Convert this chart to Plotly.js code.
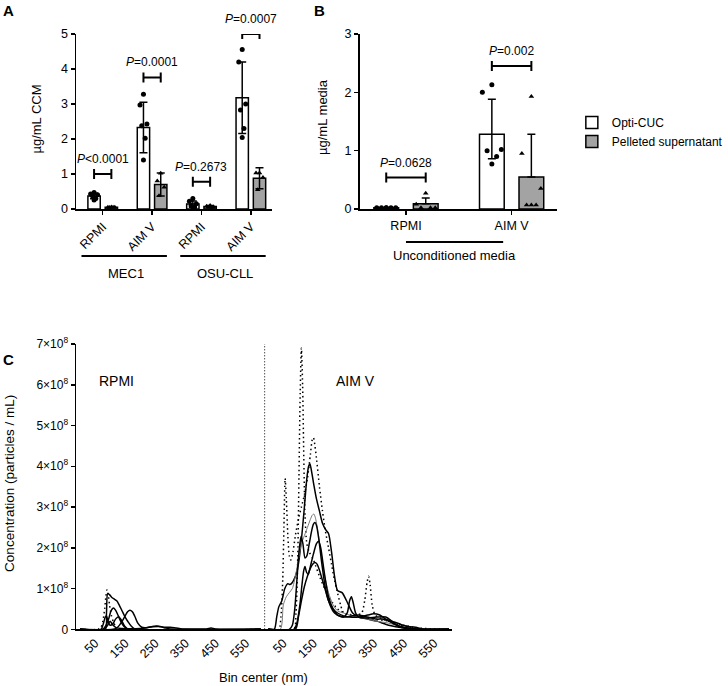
<!DOCTYPE html>
<html><head><meta charset="utf-8">
<script src="https://cdn.plot.ly/plotly-3.0.1.min.js"></script>
<style>html,body{margin:0;padding:0;background:#fff}</style>
</head><body><div id="chart" style="width:728px;height:686px"></div>
<script>
// ---------- Panel A ----------
const aCategories = ['RPMI', 'AIM V', 'RPMI', 'AIM V'];
const aGroups = ['MEC1', 'OSU-CLL'];
const aOptiMean = [0.37, 2.33, 0.14, 3.18];
const aOptiSD = [0.08, 0.72, 0.09, 1.02];
const aPelletMean = [0.05, 0.70, 0.07, 0.88];
const aPelletSD = [0.01, 0.33, 0.03, 0.30];
const aOptiPoints = [
  [0.47, 0.43, 0.41, 0.38, 0.30, 0.26],
  [3.28, 2.97, 2.43, 2.38, 2.02, 1.40],
  [0.30, 0.22, 0.15, 0.10, 0.05, 0.03],
  [4.56, 4.20, 3.00, 2.83, 2.30, 2.04]
];
const aPelletPoints = [
  [0.06, 0.05, 0.05, 0.04, 0.05],
  [1.02, 0.80, 0.62, 0.38],
  [0.10, 0.08, 0.06, 0.05, 0.04],
  [1.03, 1.03, 0.90, 0.55]
];
const aPText = ['<i>P</i>&lt;0.0001', '<i>P</i>=0.0001', '<i>P</i>=0.2673', '<i>P</i>=0.0007'];
const aBracketY = [1.0, 3.76, 0.78, 5.0];

// ---------- Panel B ----------
const bCategories = ['RPMI', 'AIM V'];
const bOptiMean = [0.02, 1.28];
const bOptiSDUp = [0.0, 0.60];
const bOptiSDDown = [0.0, 0.42];
const bPelletMean = [0.09, 0.55];
const bPelletSDUp = [0.10, 0.73];
const bPelletSDDown = [0.0, 0.0];
const bOptiPoints = [
  [0.02, 0.02, 0.02, 0.02, 0.02, 0.02],
  [2.13, 2.00, 1.02, 1.00, 0.90, 0.77]
];
const bPelletPoints = [
  [0.27, 0.08, 0.02, 0.02, 0.02],
  [1.93, 0.95, 0.35, 0.07, 0.07, 0.07]
];
const bPText = ['<i>P</i>=0.0628', '<i>P</i>=0.002'];
const bBracketY = [0.54, 2.45];

// ---------- Panel C (values in 1e8 particles/mL) ----------
const rpmiCurves = [
  {dash: 'dot', x: [0,60,70,76,82,86,90,94,98,104,110,120,130,600],
   y: [0,0,0.05,0.2,0.5,0.8,0.97,0.85,0.6,0.35,0.2,0.05,0,0]},
  {dash: 'solid', x: [0,84,88,92,98,106,114,122,130,140,150,160,170,185,600],
   y: [0,0,0.4,0.88,0.85,0.78,0.74,0.7,0.6,0.45,0.3,0.18,0.08,0,0]},
  {dash: 'solid', x: [0,75,85,95,103,111,118,126,135,145,160,600],
   y: [0,0,0.08,0.25,0.45,0.52,0.47,0.35,0.2,0.08,0,0]},
  {dash: 'solid', x: [0,110,125,140,150,158,166,174,182,192,205,220,240,255,270,285,300,600],
   y: [0,0,0.05,0.2,0.33,0.43,0.47,0.43,0.32,0.15,0.05,0.04,0.07,0.08,0.06,0.03,0.01,0]},
  {dash: 'solid', x: [0,70,78,84,88,93,100,108,118,128,138,148,160,600],
   y: [0,0,0.15,0.3,0.33,0.2,0.1,0.12,0.25,0.31,0.22,0.08,0,0]},
  {dash: 'solid', x: [0,80,92,100,108,120,140,200,240,260,280,300,320,340,420,435,450,600],
   y: [0,0,0.1,0.2,0.12,0.04,0.02,0.02,0.06,0.07,0.05,0.05,0.03,0.01,0.01,0.03,0.01,0]}
];
const aimvCurves = [
  {dash: 'dot', x: [0,85,92,98,102,106,110,114,118,122,128,136,150,170,200,230,260,290,310,320,328,333,338,345,355,380,420,470,520,600],
   y: [0,0,0.4,1.8,3.8,5.8,6.9,6.0,4.2,2.8,2.1,1.9,1.7,1.3,0.8,0.5,0.38,0.35,0.4,0.7,1.15,1.3,1.1,0.6,0.35,0.25,0.15,0.05,0,0]},
  {dash: 'dot', x: [0,35,42,48,52,56,60,65,70,75,82,90,100,110,120,130,140,146,150,155,160,170,180,190,200,210,220,228,240,250,270,300,350,400,450,500,600],
   y: [0,0,0.3,1.2,2.5,3.7,3.2,2.3,1.8,1.7,1.9,2.3,2.7,3.0,3.3,3.7,4.3,4.65,4.7,4.5,4.2,3.5,2.9,2.4,2.0,1.6,1.2,0.95,0.6,0.4,0.35,0.3,0.25,0.2,0.1,0.03,0]},
  {dash: 'solid', x: [0,20,28,35,45,55,65,72,80,90,100,110,120,128,134,138,142,150,160,170,180,190,200,210,220,230,245,260,280,300,330,360,400,450,500,600],
   y: [0,0,0.3,0.55,0.7,1.0,1.12,1.1,1.15,1.3,1.6,2.2,3.0,3.7,4.0,4.06,3.95,3.6,3.2,2.9,2.6,2.45,2.35,1.9,1.3,0.95,0.9,0.7,0.4,0.3,0.25,0.2,0.1,0.03,0,0]},
  {dash: 'solid', thin: true, x: [0,40,50,60,70,80,90,100,110,120,130,140,146,151,156,165,175,185,200,215,230,250,270,300,330,360,400,450,500,600],
   y: [0,0,0.6,0.8,0.9,1.0,1.3,1.7,2.1,2.3,2.5,2.7,2.8,2.83,2.75,2.4,1.9,1.4,0.9,0.6,0.45,0.4,0.35,0.3,0.25,0.2,0.15,0.05,0,0]},
  {dash: 'solid', x: [0,70,80,88,95,102,109,115,122,128,136,145,150,155,160,168,178,190,205,220,240,260,280,300,330,360,380,400,420,450,480,500,600],
   y: [0,0,0.1,0.5,1.2,1.9,2.28,2.1,1.75,1.8,2.1,2.45,2.58,2.62,2.55,2.2,1.6,1.0,0.6,0.4,0.32,0.3,0.33,0.35,0.3,0.25,0.25,0.2,0.12,0.05,0.02,0,0]},
  {dash: 'solid', x: [0,85,95,105,112,118,122,127,133,140,150,160,167,174,182,190,200,215,230,250,262,270,276,282,290,300,330,360,390,410,430,460,600],
   y: [0,0,0.15,0.6,1.1,1.45,1.54,1.4,1.35,1.55,1.85,2.1,2.16,2.0,1.6,1.2,0.8,0.5,0.35,0.3,0.4,0.7,0.8,0.65,0.4,0.3,0.28,0.3,0.3,0.2,0.08,0.02,0]},
  {dash: 'solid', x: [0,90,100,110,120,130,140,148,155,162,170,180,190,200,215,230,250,270,300,330,350,370,390,410,440,470,490,510,600],
   y: [0,0,0.3,0.7,1.05,1.3,1.5,1.6,1.64,1.6,1.45,1.2,0.95,0.7,0.5,0.4,0.33,0.3,0.3,0.35,0.38,0.35,0.25,0.2,0.12,0.06,0.05,0.01,0]}
];
const cTickNm = [50, 150, 250, 350, 450, 550];
const cYTicks = [0, 1, 2, 3, 4, 5, 6, 7];

// ---------- layout constants ----------
const W = 728, H = 686;
const FONT = 'Arial, "Liberation Sans", sans-serif';
const aOff = 0.175, aW = 0.25;
const bOff = 0.187, bW = 0.234;
const AIMV_SHIFT = 625;
const DIVIDER = 613;
const px = v => v / W;
const py = v => 1 - v / H;

function jitter(i, n, half) {
  const pat = [0, -1, 1, -0.5, 0.5, 0];
  return (n <= 1 ? 0 : pat[i % pat.length]) * half;
}

const traces = [];
const GRAY = '#a3a3a3';

function addBars(cats, off, w, optiM, optiUp, optiDn, pelM, pelUp, pelDn, xa, ya, legend) {
  const idx = cats.map((_, i) => i);
  traces.push({type: 'bar', x: idx.map(i => i - off), y: optiM, width: w,
    marker: {color: '#ffffff', line: {color: '#000', width: 1.5}},
    error_y: {type: 'data', symmetric: false, array: optiUp, arrayminus: optiDn, color: '#000', thickness: 1.5, width: 4},
    name: 'Opti-CUC', showlegend: legend, xaxis: xa, yaxis: ya, hoverinfo: 'skip'});
  traces.push({type: 'bar', x: idx.map(i => i + off), y: pelM, width: w,
    marker: {color: GRAY, line: {color: '#000', width: 1.5}},
    error_y: {type: 'data', symmetric: false, array: pelUp, arrayminus: pelDn, color: '#000', thickness: 1.5, width: 4},
    name: 'Pelleted supernatant', showlegend: legend, xaxis: xa, yaxis: ya, hoverinfo: 'skip'});
}
function addPoints(points, off, sign, half, symbol, xa, ya) {
  const xs = [], ys = [];
  points.forEach((arr, i) => arr.forEach((v, k) => {
    xs.push(i + sign * off + jitter(k, arr.length, half)); ys.push(v);
  }));
  traces.push({type: 'scatter', mode: 'markers', x: xs, y: ys, cliponaxis: false,
    marker: {symbol: symbol, size: 5, color: '#000'}, showlegend: false, xaxis: xa, yaxis: ya, hoverinfo: 'skip'});
}

addBars(aCategories, aOff, aW, aOptiMean, aOptiSD, aOptiSD, aPelletMean, aPelletSD, aPelletSD, 'x', 'y', true);
addPoints(aOptiPoints, aOff, -1, 0.07, 'circle', 'x', 'y');
addPoints(aPelletPoints, aOff, 1, 0.07, 'triangle-up', 'x', 'y');

addBars(bCategories, bOff, bW, bOptiMean, bOptiSDUp, bOptiSDDown, bPelletMean, bPelletSDUp, bPelletSDDown, 'x2', 'y2', false);
addPoints(bOptiPoints, bOff, -1, 0.09, 'circle', 'x2', 'y2');
addPoints(bPelletPoints, bOff, 1, 0.09, 'triangle-up', 'x2', 'y2');

function addCurve(c, shift) {
  traces.push({type: 'scatter', mode: 'lines', x: c.x.map(v => v + shift), y: c.y.map(v => v * 1e8),
    line: {color: c.thin ? '#777' : '#000', width: c.thin ? 1 : 1.5,
      dash: c.dash === 'dot' ? '1.5px,3px' : 'solid', shape: 'spline', smoothing: 0.7},
    showlegend: false, xaxis: 'x3', yaxis: 'y3', hoverinfo: 'skip'});
}
rpmiCurves.forEach(c => addCurve(c, 0));
aimvCurves.forEach(c => addCurve(c, AIMV_SHIFT));

// ---------- shapes & annotations ----------
const shapes = [], annotations = [];
function ann(o) {
  annotations.push(Object.assign({showarrow: false, xanchor: 'center', yanchor: 'middle',
    font: {size: 12, family: FONT, color: '#000'}}, o));
}
const titleFont = {size: 13, family: FONT, color: '#000'};
function bracket(xa, ya, i, off, yv, text) {
  shapes.push({type: 'line', xref: xa, yref: ya, x0: i - off, x1: i + off, y0: yv, y1: yv, line: {color: '#000', width: 2}});
  [i - off, i + off].forEach(xx => shapes.push({type: 'line', xref: xa, yref: ya, ysizemode: 'pixel', yanchor: yv,
    x0: xx, x1: xx, y0: -5, y1: 5, line: {color: '#000', width: 2}}));
  ann({xref: xa, yref: ya, x: i, y: yv, yanchor: 'bottom', yshift: 6, text: text});
}
aBracketY.forEach((yv, i) => bracket('x', 'y', i, aOff, yv, aPText[i]));
bBracketY.forEach((yv, i) => bracket('x2', 'y2', i, bOff, yv, bPText[i]));

// group lines under panel A
aGroups.forEach((g, gi) => {
  const c = gi * 2 + 0.5;
  shapes.push({type: 'line', xref: 'x', yref: 'paper', x0: c - 0.93, x1: c + 0.8, y0: py(256), y1: py(256), line: {color: '#000', width: 2}});
  ann({xref: 'x', yref: 'paper', x: c - 0.03, y: py(273), text: g, font: titleFont});
});
// group line under panel B
shapes.push({type: 'line', xref: 'x2', yref: 'paper', x0: 0, x1: 0.92, y0: py(242), y1: py(242), line: {color: '#000', width: 2}});
ann({xref: 'x2', yref: 'paper', x: 0.46, y: py(255), text: 'Unconditioned media', font: titleFont});

// divider in panel C
shapes.push({type: 'line', xref: 'x3', yref: 'y3', x0: DIVIDER, x1: DIVIDER, y0: 0, y1: 7e8, line: {color: '#000', width: 1, dash: '1px,2px'}});
ann({xref: 'x3', yref: 'y3', x: 121, y: 6.1e8, text: 'RPMI', font: {size: 14, family: FONT, color: '#000'}});
ann({xref: 'x3', yref: 'y3', x: 915, y: 6.1e8, text: 'AIM V', font: {size: 14, family: FONT, color: '#000'}});

// axis titles
ann({xref: 'paper', yref: 'paper', x: px(37), y: py(119), text: 'µg/mL CCM', textangle: -90, font: titleFont});
ann({xref: 'paper', yref: 'paper', x: px(327), y: py(117), text: 'µg/mL media', textangle: -90, font: titleFont});
ann({xref: 'paper', yref: 'paper', x: px(9), y: py(483), text: 'Concentration (particles / mL)', textangle: -90, font: {size: 13.5, family: FONT, color: '#000'}});
ann({xref: 'paper', yref: 'paper', x: px(267), y: py(677), text: 'Bin center (nm)', font: titleFont});
// panel letters
[['A', 9, 10], ['B', 323, 10], ['C', 9, 360]].forEach(([t, x, y]) =>
  ann({xref: 'paper', yref: 'paper', x: px(x), y: py(y), text: '<b>' + t + '</b>', font: {size: 15, family: FONT, color: '#000'}}));

const axBase = {showline: true, linecolor: '#000', linewidth: 1.5, ticks: 'outside', ticklen: 4, tickwidth: 1.5,
  tickcolor: '#000', showgrid: false, zeroline: false, automargin: false, fixedrange: true,
  tickfont: {size: 12.5, family: FONT, color: '#000'}};

const cTickVals = cTickNm.concat(cTickNm.map(v => v + AIMV_SHIFT));
const cTickText = cTickNm.concat(cTickNm).map(String);

const layout = {
  width: W, height: H, margin: {l: 0, r: 0, t: 0, b: 0},
  paper_bgcolor: '#fff', plot_bgcolor: 'rgba(0,0,0,0)',
  font: {family: FONT, color: '#000'},
  barmode: 'overlay',
  showlegend: true,
  legend: {x: px(579), y: py(108), xanchor: 'left', yanchor: 'top', font: {size: 12, family: FONT, color: '#000'},
    bgcolor: 'rgba(0,0,0,0)', tracegroupgap: 0, itemwidth: 30},
  xaxis: Object.assign({}, axBase, {domain: [px(77), px(275)], range: [-0.54, 3.42], tickvals: [0, 1, 2, 3], ticktext: aCategories, tickangle: -45, anchor: 'y'}),
  yaxis: Object.assign({}, axBase, {domain: [py(209), py(34)], range: [0, 5], tickvals: [0, 1, 2, 3, 4, 5], anchor: 'x'}),
  xaxis2: Object.assign({}, axBase, {domain: [px(364), px(564)], range: [-0.44, 1.43], tickvals: [0, 1], ticktext: bCategories, tickangle: 0, anchor: 'y2'}),
  yaxis2: Object.assign({}, axBase, {domain: [py(209), py(34)], range: [0, 3], tickvals: [0, 1, 2, 3], anchor: 'x2'}),
  xaxis3: Object.assign({}, axBase, {domain: [px(77), px(458)], range: [-13, 1236], tickvals: cTickVals, ticktext: cTickText, tickangle: -45, anchor: 'y3',
    ticks: '', tickfont: {size: 12.5, family: FONT, color: '#000'}}),
  yaxis3: Object.assign({}, axBase, {domain: [py(629.3), py(344)], range: [0, 7e8], tickvals: cYTicks.map(v => v * 1e8),
    ticktext: cYTicks.map(v => v === 0 ? '0' : v + '×10<sup>8</sup>'), anchor: 'x3', tickfont: {size: 12, family: FONT, color: '#000'}}),
  shapes: shapes,
  annotations: annotations
};

Plotly.newPlot('chart', traces, layout, {staticPlot: true, displayModeBar: false});
</script>
</body></html>
